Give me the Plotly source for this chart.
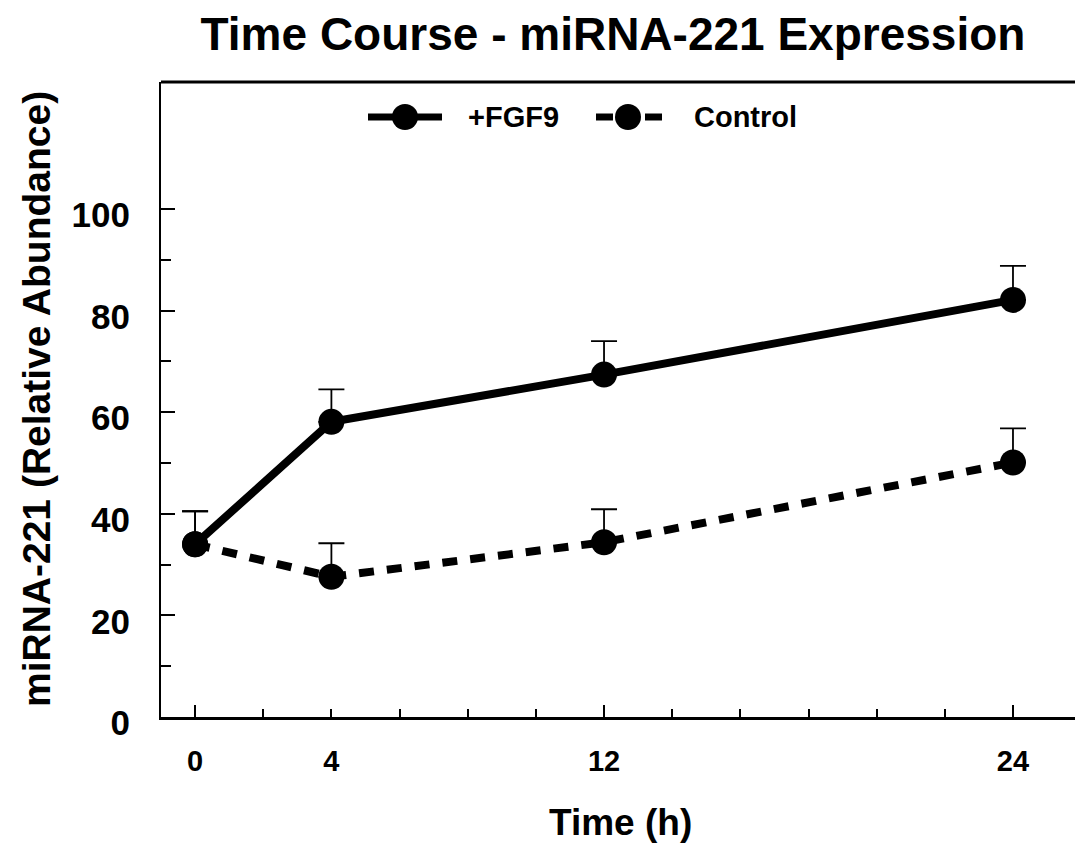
import plotly.graph_objects as go

# ---- data ----
time_h = [0, 4, 12, 24]
fgf9_mean = [34.0, 58.1, 67.4, 82.1]
fgf9_err = [6.5, 6.4, 6.6, 6.7]
control_mean = [34.0, 27.6, 34.4, 50.1]
control_err = [6.5, 6.6, 6.5, 6.7]
x_tick_vals = [0, 4, 12, 24]
x_tick_text = ["0", "4", "12", "24"]
y_tick_vals = [0, 20, 40, 60, 80, 100]
y_tick_text = ["0", "20", "40", "60", "80", "100"]
series_names = ["+FGF9", "Control"]

FONT = "Liberation Sans, Arial, Helvetica, sans-serif"
W, H = 1075, 848
L, R, T, B = 161, 0, 82, 131

fig = go.Figure()

def err(arr):
    return dict(type="data", symmetric=False, array=arr,
                arrayminus=[0] * len(arr), color="black", thickness=1.8, width=13)

fig.add_trace(go.Scatter(
    x=time_h, y=control_mean, mode="lines+markers", name=series_names[1],
    line=dict(color="black", width=8, dash="15px,13px"),
    marker=dict(size=26, color="black"),
    error_y=err(control_err), showlegend=False))
fig.add_trace(go.Scatter(
    x=time_h, y=fgf9_mean, mode="lines+markers", name=series_names[0],
    line=dict(color="black", width=8),
    marker=dict(size=26, color="black"),
    error_y=err(fgf9_err), showlegend=False))

# ---- custom legend drawn on an overlay axis spanning the plot area ----
pw = W - L - R
ph = H - T - B
def fx(px):
    return (px - L) / pw
def fy(py):
    return (H - B - py) / ph

leg_y = fy(117)
fig.add_trace(go.Scatter(
    x=[fx(368), fx(442)], y=[leg_y, leg_y], mode="lines",
    line=dict(color="black", width=7), xaxis="x2", yaxis="y2",
    showlegend=False, hoverinfo="skip"))
fig.add_trace(go.Scatter(
    x=[fx(405)], y=[leg_y], mode="markers", marker=dict(size=26, color="black"),
    xaxis="x2", yaxis="y2", showlegend=False, hoverinfo="skip"))
fig.add_trace(go.Scatter(
    x=[fx(596), fx(613), None, fx(645), fx(662)], y=[leg_y, leg_y, None, leg_y, leg_y],
    mode="lines", line=dict(color="black", width=7), xaxis="x2", yaxis="y2",
    showlegend=False, hoverinfo="skip"))
fig.add_trace(go.Scatter(
    x=[fx(628)], y=[leg_y], mode="markers", marker=dict(size=26, color="black"),
    xaxis="x2", yaxis="y2", showlegend=False, hoverinfo="skip"))

# overlay axis for long major x ticks
fig.add_trace(go.Scatter(x=[0], y=[0], mode="markers", marker=dict(opacity=0),
                         xaxis="x3", showlegend=False, hoverinfo="skip"))

tickfont_x = dict(family=FONT, size=29, color="black", weight="bold")
tickfont_y = dict(family=FONT, size=35, color="black", weight="bold")

fig.update_layout(
    width=W, height=H,
    margin=dict(l=L, r=R, t=T, b=B, pad=0),
    paper_bgcolor="white", plot_bgcolor="white",
    title=dict(text="<b>Time Course - miRNA-221 Expression</b>",
               font=dict(family=FONT, size=46, color="black"),
               x=613 / W, xanchor="center", xref="container",
               y=1 - 34 / H, yanchor="middle", yref="container"),
    xaxis=dict(range=[-1, 25.82], tickmode="array", tickvals=x_tick_vals,
               ticktext=x_tick_text, ticks="inside", ticklen=8, tickwidth=2,
               tickcolor="black", showline=True, linecolor="black", linewidth=3,
               showgrid=False, zeroline=False, tickfont=tickfont_x,
               ticklabelstandoff=16,
               minor=dict(tickmode="array", tickvals=[2, 6, 8, 10, 14, 16, 18, 20, 22],
                          ticks="inside", ticklen=8, tickwidth=2, tickcolor="black",
                          showgrid=False)),
    xaxis3=dict(range=[-1, 25.82], overlaying="x", tickmode="array",
                tickvals=[0, 12, 24], ticks="inside", ticklen=12, tickwidth=2,
                tickcolor="black", showticklabels=False, showline=False,
                showgrid=False, zeroline=False, side="bottom"),
    yaxis=dict(range=[0, 125], tickmode="array", tickvals=y_tick_vals,
               ticktext=y_tick_text, ticks="inside", ticklen=14, tickwidth=2,
               tickcolor="black", showline=True, linecolor="black", linewidth=2,
               showgrid=False, zeroline=False, tickfont=tickfont_y,
               ticklabelstandoff=22, ticklabelshift=6,
               minor=dict(tickmode="array", tickvals=[10, 30, 50, 70, 90],
                          ticks="inside", ticklen=10, tickwidth=2, tickcolor="black",
                          showgrid=False)),
    xaxis2=dict(range=[0, 1], overlaying="x", visible=False, fixedrange=True),
    yaxis2=dict(range=[0, 1], overlaying="y", visible=False, fixedrange=True),
    showlegend=False,
    shapes=[dict(type="line", xref="paper", yref="paper", x0=0, x1=1, y0=1, y1=1,
                 line=dict(color="black", width=3))],
    annotations=[
        dict(text="<b>+FGF9</b>", xref="paper", yref="paper", x=fx(466), y=leg_y,
             xanchor="left", yanchor="middle", showarrow=False,
             font=dict(family=FONT, size=29, color="black")),
        dict(text="<b>Control</b>", xref="paper", yref="paper", x=fx(692), y=leg_y,
             xanchor="left", yanchor="middle", showarrow=False,
             font=dict(family=FONT, size=29, color="black")),
        dict(text="<b>Time (h)</b>", xref="paper", yref="paper", x=fx(620), y=fy(822),
             xanchor="center", yanchor="middle", showarrow=False,
             font=dict(family=FONT, size=37, color="black")),
        dict(text="<b>miRNA-221 (Relative Abundance)</b>", xref="paper", yref="paper",
             x=fx(36), y=fy(399), xanchor="center", yanchor="middle", showarrow=False,
             textangle=-90, font=dict(family=FONT, size=39, color="black")),
    ],
)

fig.write_html("out.html")
